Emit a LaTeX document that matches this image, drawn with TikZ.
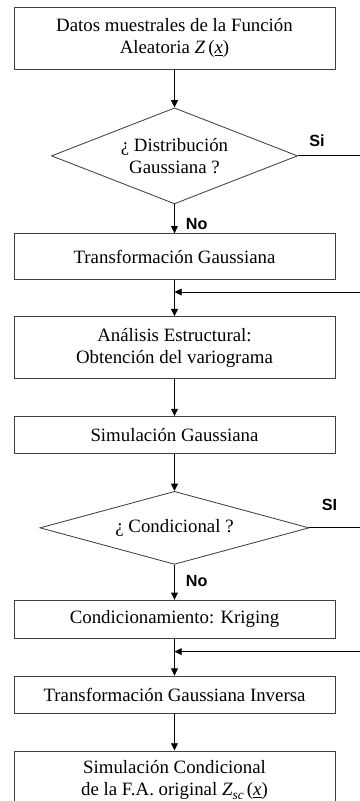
\documentclass[tikz,border=0pt]{standalone}
\usepackage{fontspec}
\setmainfont{Liberation Serif}
\newfontfamily\answerfont{Liberation Sans}
\usetikzlibrary{shapes,arrows.meta,positioning,calc}

\begin{document}
\begin{tikzpicture}[
    x=0.025cm,
    y=-0.025cm,
    node distance=0.925cm,
    line width=0.6pt,
    >={Triangle[length=1.8mm,width=1.7mm]},
    process node/.style={rectangle,draw=black!75,minimum width=8.025cm,align=center,font=\fontsize{13.4}{15.8}\selectfont},
    decision node/.style={diamond,draw=black!75,inner sep=0pt,align=center,font=\fontsize{13.4}{15.8}\selectfont},
    answer node/.style={inner sep=0pt,font=\answerfont\bfseries\fontsize{11.5}{13}\selectfont}
]
\clip (0,0) rectangle (360,801);

% Input
\node[process node, minimum height=1.55cm] (data_box) at (174.5,38) {Datos muestrales de la Función\\Aleatoria \textit{Z}\,(\underline{\textit{x}})};

% Gaussian branch
\node[decision node, below=0.95cm of data_box, minimum width=6.15cm, minimum height=2.4cm, aspect=2.5] (gauss_test) {¿ Distribución\\Gaussiana ?};
\node[process node, below=0.725cm of gauss_test, minimum height=1.15cm] (gauss_trans) {Transformación Gaussiana};
\node[process node, below=0.9cm of gauss_trans, minimum height=1.55cm] (struct_box) {Análisis Estructural:\\Obtención del variograma};
\node[process node, below=of struct_box, minimum height=0.925cm] (gauss_sim) {Simulación Gaussiana};

% Conditional branch
\node[decision node, below=of gauss_sim, minimum width=6.725cm, minimum height=1.825cm, aspect=3.7] (cond_test) {¿ Condicional ?};
\node[process node, below=0.875cm of cond_test, minimum height=0.95cm] (kriging_box) {Condicionamiento: Kriging};
\node[process node, below=of kriging_box, minimum height=0.925cm] (inv_trans) {Transformación Gaussiana Inversa};

% Output
\node[process node, below=of inv_trans, minimum height=1.45cm, anchor=north] (result_box) {Simulación Condicional\\de la F.A. original \textit{Z}\raisebox{-0.45ex}{\fontsize{9.5}{9.5}\selectfont\textit{sc}}\,(\underline{\textit{x}})};

% Answers
\node[answer node, above right=0.225cm and 0.275cm of gauss_test.east] (si_a) {Si};
\node[answer node, below right=0.35cm and 0.275cm of gauss_test.south] (no_a) {No};
\node[answer node, above right=0.425cm and 0.3cm of cond_test.east] (si_b) {SI};
\node[answer node, below right=0.25cm and 0.275cm of cond_test.south] (no_b) {No};

% Junctions
\coordinate (right_edge) at (360,0);
\coordinate (loop_a) at ($(gauss_trans.south)!0.33!(struct_box.north)$);
\coordinate (loop_b) at ($(kriging_box.south)!0.35!(inv_trans.north)$);

% Arrows
\draw[->] (data_box) -- (gauss_test);
\draw[->] (gauss_test) -- (gauss_trans);
\draw[->] (gauss_trans) -- (struct_box);
\draw[->] (struct_box) -- (gauss_sim);
\draw[->] (gauss_sim) -- (cond_test);
\draw[->] (cond_test) -- (kriging_box);
\draw[->] (kriging_box) -- (inv_trans);
\draw[->] (inv_trans) -- (result_box);

% Si lines
\draw (gauss_test.east) -- (gauss_test.east -| right_edge);
\draw (cond_test.east) -- (cond_test.east -| right_edge);
\draw[->] (loop_a -| right_edge) -- (loop_a);
\draw[->] (loop_b -| right_edge) -- (loop_b);

\end{tikzpicture}
\end{document}
